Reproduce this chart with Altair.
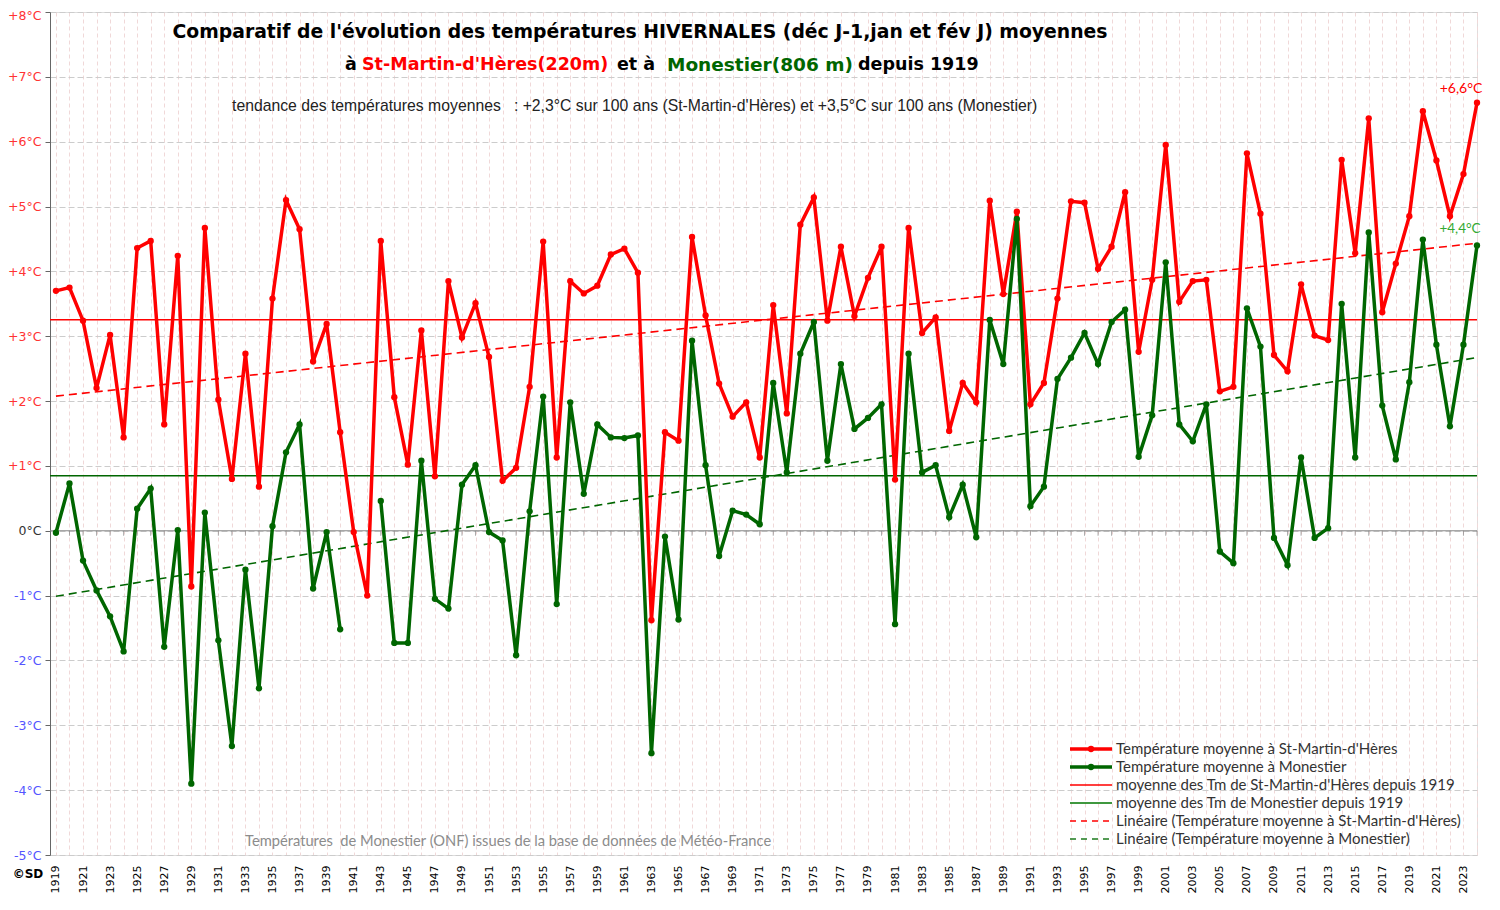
import altair as alt
import pandas as pd

years = list(range(1919, 2025))

# Température moyenne hivernale à St-Martin-d'Hères (°C)
smh = [3.70, 3.75, 3.24, 2.20, 3.02, 1.44, 4.36, 4.47, 1.64, 4.24,   # 1919-1928
       -0.86, 4.67, 2.02, 0.80, 2.73, 0.68, 3.58, 5.10, 4.65, 2.61,  # 1929-1938
       3.19, 1.52, -0.02, -1.00, 4.47, 2.06, 1.02, 3.09, 0.84, 3.85, # 1939-1948
       2.98, 3.51, 2.68, 0.77, 0.97, 2.22, 4.46, 1.13, 3.85, 3.66,   # 1949-1958
       3.78, 4.26, 4.35, 3.98, -1.38, 1.52, 1.39, 4.53, 3.32, 2.27,  # 1959-1968
       1.76, 1.98, 1.13, 3.48, 1.81, 4.72, 5.14, 3.24, 4.38, 3.31,   # 1969-1978
       3.90, 4.38, 0.79, 4.67, 3.05, 3.29, 1.54, 2.28, 1.98, 5.09,   # 1979-1988
       3.65, 4.92, 1.95, 2.28, 3.58, 5.08, 5.06, 4.04, 4.38, 5.22,   # 1989-1998
       2.76, 3.87, 5.95, 3.53, 3.85, 3.87, 2.15, 2.22, 5.82, 4.89,   # 1999-2008
       2.71, 2.46, 3.80, 3.01, 2.94, 5.72, 4.28, 6.36, 3.37, 4.12,   # 2009-2018
       4.85, 6.47, 5.71, 4.85, 5.50, 6.60]                           # 2019-2024

# Température moyenne hivernale à Monestier (°C), 1941-1942 manquants
mon = [-0.03, 0.73, -0.46, -0.92, -1.32, -1.86, 0.34, 0.65, -1.79, 0.01,
       -3.90, 0.28, -1.69, -3.32, -0.60, -2.43, 0.07, 1.21, 1.64, -0.89,
       -0.02, -1.52, None, None, 0.46, -1.73, -1.73, 1.08, -1.05, -1.20,
       0.71, 1.01, -0.02, -0.15, -1.92, 0.30, 2.07, -1.13, 1.98, 0.57,
       1.64, 1.44, 1.43, 1.47, -3.43, -0.09, -1.37, 2.93, 1.01, -0.39,
       0.31, 0.25, 0.10, 2.28, 0.90, 2.73, 3.22, 1.08, 2.57, 1.57,
       1.74, 1.95, -1.44, 2.73, 0.90, 1.01, 0.21, 0.71, -0.10, 3.25,
       2.57, 4.81, 0.38, 0.68, 2.34, 2.67, 3.05, 2.57, 3.22, 3.41,
       1.14, 1.78, 4.14, 1.64, 1.38, 1.95, -0.32, -0.50, 3.43, 2.84,
       -0.11, -0.53, 1.13, -0.11, 0.04, 3.50, 1.13, 4.60, 1.93, 1.10,
       2.29, 4.49, 2.87, 1.61, 2.87, 4.40]

sites = ["SMH", "MON"]
site_colors = ["#FF0000", "#006600"]

legend_labels = [
    "Température moyenne à St-Martin-d'Hères",
    "Température moyenne à Monestier",
    "moyenne des Tm de St-Martin-d'Hères depuis 1919",
    "moyenne des Tm de Monestier depuis 1919",
    "Linéaire (Température moyenne à St-Martin-d'Hères)",
    "Linéaire (Température moyenne à Monestier)",
]
legend_colors = ["#FF0000", "#006600", "#FF0000", "#007700", "#FF0000", "#1E7B1E"]
legend_dash = [[1, 0], [1, 0], [1, 0], [1, 0], [6, 5], [6, 5]]
legend_width = [3.5, 3.5, 1.5, 1.5, 1.5, 1.5]

NB = "\u00a0"

rows = []
for yr, a, b in zip(years, smh, mon):
    rows.append({"year": yr, "value": a, "site": "SMH", "seg": 0})
    if b is not None:
        rows.append({"year": yr, "value": b, "site": "MON", "seg": 0 if yr < 1941 else 1})
df = pd.DataFrame(rows)

def fmt(v):
    return ("+" if v > 0 else "") + f"{v:.1f}".replace(".", ",") + "°C"

W, H = 1427, 843
xs = alt.Scale(domain=[1918.56, 2024], nice=False, zero=False)
ys = alt.Scale(domain=[-5, 8], nice=False, zero=False)
col = alt.Scale(domain=sites, range=site_colors)

x_axis = alt.Axis(
    values=years, title=None, labelAngle=270, labelFont="DejaVu Sans", labelFontSize=11,
    labelColor="#000000", labelExpr="datum.value % 2 == 1 ? '' + datum.value : ''",
    labelPadding=10, labelOverlap=False, labelFlush=False, ticks=False, domain=False,
    grid=True, gridColor="#F0D8D8", gridDash=[4, 3], gridWidth=1,
)
y_axis = alt.Axis(
    values=list(range(-5, 9)), title=None, labelFont="DejaVu Sans", labelFontSize=12.5,
    labelExpr="(datum.value > 0 ? '+' : '') + datum.value + '°C'",
    labelColor={"condition": [{"test": "datum.value > 0", "value": "#FF3333"},
                              {"test": "datum.value < 0", "value": "#5555FF"}],
                "value": "#333333"},
    labelOffset={"condition": {"test": "datum.value == 8", "value": 3}, "value": 0},
    labelPadding=4, tickSize=5, tickColor="#666666", domainColor="#666666",
    grid=True, gridColor="#CCCCCC", gridDash=[6, 3],
)

X = alt.X("year:Q", scale=xs, axis=x_axis)
Y = alt.Y("value:Q", scale=ys, axis=y_axis)
C = alt.Color("site:N", scale=col, legend=None)

base = alt.Chart(df)

zero_rule = alt.Chart(pd.DataFrame({"v": [0]})).mark_rule(color="#888888", strokeWidth=1).encode(
    y=alt.Y("v:Q", scale=ys, axis=y_axis))
zero_ticks = alt.Chart(pd.DataFrame({"year": years})).mark_tick(
    orient="vertical", size=5, thickness=1, color="#888888", yOffset=2.5).encode(
    x=X, y=alt.datum(0))

means = base.transform_aggregate(m="mean(value)", groupby=["site"]).mark_rule(
    strokeWidth=1.5).encode(y=alt.Y("m:Q", scale=ys, axis=y_axis), color=C)

trend = base.transform_regression("year", "value", groupby=["site"], extent=[1919, 2024]).mark_line(
    strokeDash=[8, 5], strokeWidth=1.6).encode(x=X, y=Y, color=C)

lines = base.mark_line(strokeWidth=3.5).encode(x=X, y=Y, color=C, detail="seg:N")
points = base.mark_circle(size=40, opacity=1).encode(x=X, y=Y, color=C)

end_red = alt.Chart(pd.DataFrame({"year": [years[-1]], "value": [smh[-1]], "t": [fmt(smh[-1])]})).mark_text(
    font="Lato", fontSize=14, color="#FF0000", dx=-16, dy=-14).encode(x=X, y=Y, text="t:N")
end_green = alt.Chart(pd.DataFrame({"year": [years[-1]], "value": [mon[-1]], "t": [fmt(mon[-1])]})).mark_text(
    font="Lato", fontSize=13.5, color="#33AA33", dx=-17, dy=-16).encode(x=X, y=Y, text="t:N")

def txt(s, x, y, align="left", **kw):
    return alt.Chart(pd.DataFrame({"t": [s]})).mark_text(align=align, baseline="middle", **kw).encode(
        x=alt.value(x), y=alt.value(y), text="t:N")

title_font = dict(font="DejaVu Sans", fontWeight="bold", fontSize=17.5)
texts = [
    txt("Comparatif de l'évolution des températures HIVERNALES (déc J-1,jan et fév J) moyennes",
        590, 20, align="center", color="#000000", font="DejaVu Sans", fontWeight="bold", fontSize=18.8),
    txt("à", 295, 53, color="#000000", **title_font),
    txt("St-Martin-d'Hères(220m)", 312, 53, color="#FF0000", **title_font),
    txt("et à", 567, 53, color="#000000", **title_font),
    txt("Monestier(806 m)", 617, 53, color="#006600", font="DejaVu Sans", fontWeight="bold", fontSize=18.5),
    txt("depuis 1919", 808, 53, color="#000000", **title_font),
    txt("tendance des températures moyennes" + NB * 3 + ": +2,3°C sur 100 ans (St-Martin-d'Hères) et +3,5°C sur 100 ans (Monestier)",
        182, 94, color="#222222", font="Liberation Sans", fontSize=15.75),
    txt("Températures" + NB * 2 + "de Monestier (ONF) issues de la base de données de Météo-France",
        195, 830, color="#8C8C8C", font="Lato", fontSize=14.7),
    txt("©SD", -22, 862, align="center", color="#000000", font="DejaVu Sans", fontWeight="bold", fontSize=12),
]

legend = []
ly0, lstep = 737, 18
for i, lab in enumerate(legend_labels):
    yy = ly0 + i * lstep
    legend.append(alt.Chart(pd.DataFrame({"k": [i]})).mark_rule(
        color=legend_colors[i], strokeWidth=legend_width[i], strokeDash=legend_dash[i]).encode(
        x=alt.value(1020), x2=alt.value(1062), y=alt.value(yy)))
    if i < 2:
        legend.append(alt.Chart(pd.DataFrame({"k": [i]})).mark_circle(
            size=40, opacity=1, color=legend_colors[i]).encode(x=alt.value(1041), y=alt.value(yy)))
    legend.append(txt(lab, 1066, yy, color="#333333", font="Lato", fontSize=15))

chart = alt.layer(zero_rule, zero_ticks, means, trend, lines, points, end_red, end_green,
                  *texts, *legend).properties(
    width=W, height=H,
    padding={"left": 42, "top": 4, "right": 7, "bottom": 46},
    autosize=alt.AutoSizeParams(type="none"),
).configure_view(fill="#FFFFCC", stroke="#333333", strokeWidth=1).configure(background="white")

chart.save("out.html", embed_options={"renderer": "svg", "actions": False})
